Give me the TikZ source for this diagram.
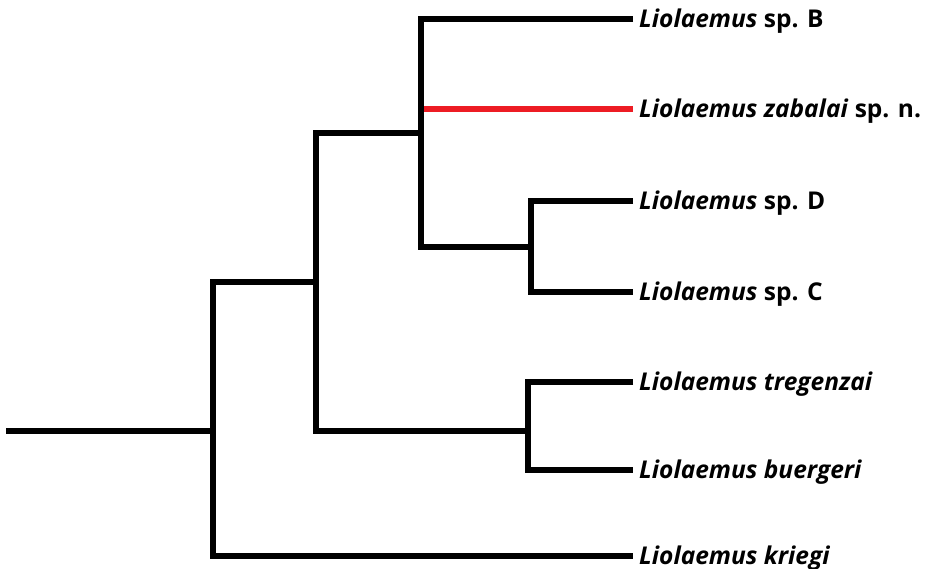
\documentclass[tikz,border=0pt]{standalone}
\usepackage{fontspec}
\setmainfont{Open Sans}
\usetikzlibrary{calc}
\definecolor{newsp}{HTML}{ED1C24}
\tikzset{
  branch/.style={line width=6pt, line join=miter, line cap=butt, black},
  newbranch/.style={branch, newsp},
  taxon/.style={anchor=west, inner xsep=6pt, inner ysep=0pt,
    text height=20pt, text depth=3pt, font=\fontsize{24.5}{26}\selectfont\bfseries},
}
\newcommand{\genus}{\textit{Liolaemus}}
\begin{document}
\begin{tikzpicture}[x=1pt, y=-1pt]
  \useasboundingbox (0,0) rectangle (933,569);

  % taxa at the tips
  \node[taxon] (spB)  at (633,19)  {\genus{} sp. B};
  \node[taxon] (zab)  at (633,109) {\textit{Liolaemus zabalai} sp. n.};
  \node[taxon] (spD)  at (633,201) {\genus{} sp. D};
  \node[taxon] (spC)  at (633,292) {\genus{} sp. C};
  \node[taxon] (tre)  at (633,382) {\textit{Liolaemus tregenzai}};
  \node[taxon] (bue)  at (633,470) {\textit{Liolaemus buergeri}};
  \node[taxon] (kri)  at (633,556) {\textit{Liolaemus kriegi}};

  % internal nodes (x of the split, y of the stem)
  \coordinate (root) at (6,431);
  \coordinate (n1) at (213,431);
  \coordinate (n2) at (316,282);
  \coordinate (n3) at (421,133);
  \coordinate (n4) at (528,431);
  \coordinate (n5) at (531,247);

  % the new species
  \draw[newbranch] (n3 |- zab.west) -- (zab.west);

  % clades
  \draw[branch] (spB.west) -| (n3) |- (n5);
  \draw[branch] (spD.west) -| (n5) |- (spC.west);
  \draw[branch] (tre.west) -| (n4) |- (bue.west);
  \draw[branch] (n3) -| (n2) |- (n4);
  \draw[branch] (n2) -| (n1) |- (kri.west);
  \draw[branch] (root) -- (n1);
\end{tikzpicture}
\end{document}
